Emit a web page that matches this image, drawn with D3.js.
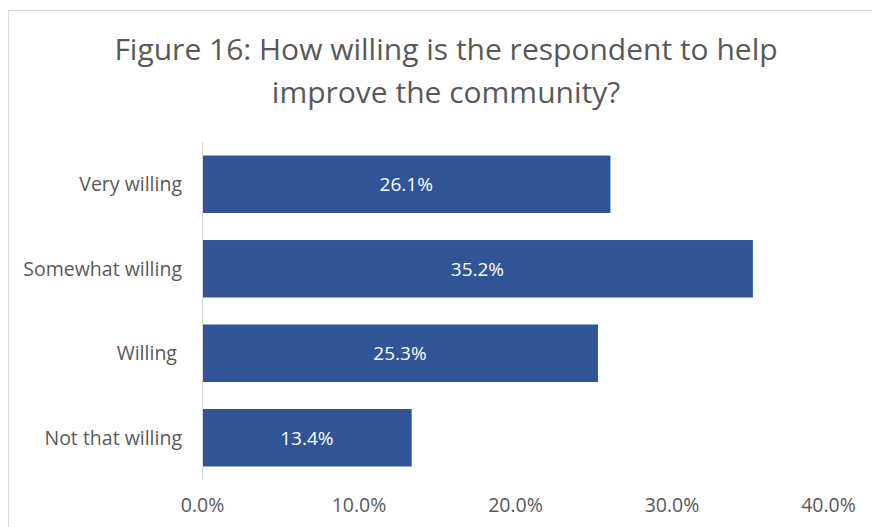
<!DOCTYPE html>
<html>
<head>
<meta charset="utf-8">
<script src="https://cdn.jsdelivr.net/npm/d3@7"></script>
<style>
  html, body { margin: 0; padding: 0; background: #fff; }
  svg { display: block; }
  text { font-family: "Open Sans", "Noto Sans", sans-serif; white-space: pre; }
</style>
</head>
<body>
<svg id="chart" width="872" height="527"></svg>
<script>
// Survey responses: willingness to help improve the community
const categories = ["Very willing", "Somewhat willing", "Willing ", "Not that willing"];
const shares = [26.1, 35.2, 25.3, 13.4];
const xTicks = [0, 10, 20, 30, 40];
const titleLines = ["Figure 16: How willing is the respondent to help", "improve the community?"];

const W = 872, H = 527;
const margin = { top: 142, left: 202, right: 44, bottom: 47 };
const FONT = '"Open Sans", "Noto Sans", sans-serif';
const svg = d3.select("#chart");

// chart area frame (top and left edges fall inside the window)
svg.append("rect")
  .attr("x", 8.5).attr("y", 10.5)
  .attr("width", W + 20).attr("height", H + 20)
  .attr("fill", "#fff")
  .attr("stroke", "#d9d9d9").attr("stroke-width", 1);

const x = d3.scaleLinear().domain([0, 40]).range([margin.left, 828]);
const y = d3.scaleBand().domain(categories)
  .range([margin.top, H - margin.bottom])
  .paddingInner(0.32).paddingOuter(0.16);

// title
svg.append("g").selectAll("text").data(titleLines).join("text")
  .attr("x", 446).attr("y", (d, i) => 60 + i * 43)
  .attr("text-anchor", "middle")
  .attr("fill", "#595959")
  .attr("font-size", 30)
  .text(d => d);

// bars
const data = categories.map((c, i) => ({ c, v: shares[i] }));
svg.append("g").selectAll("rect").data(data).join("rect")
  .attr("x", x(0))
  .attr("y", d => y(d.c))
  .attr("width", d => x(d.v) - x(0))
  .attr("height", y.bandwidth())
  .attr("fill", "#2F5597");

// value labels
svg.append("g").selectAll("text").data(data).join("text")
  .attr("x", d => (x(0) + x(d.v)) / 2)
  .attr("y", d => y(d.c) + y.bandwidth() / 2)
  .attr("dy", "0.36em")
  .attr("text-anchor", "middle")
  .attr("fill", "#fff")
  .attr("font-size", 19)
  .text(d => d.v.toFixed(1) + "%");

// category axis
const yAxis = svg.append("g")
  .attr("transform", `translate(${x(0)},0)`)
  .call(d3.axisLeft(y).tickSize(0).tickPadding(20));
yAxis.select(".domain").attr("stroke", "#d9d9d9").attr("d", `M0.5,${margin.top}V${H - margin.bottom}`);
yAxis.selectAll("text").attr("fill", "#595959").attr("font-size", 19.5)
  .attr("dy", "0.36em")
  .style("font-family", FONT);

// value axis (labels only)
const xAxis = svg.append("g")
  .attr("transform", `translate(0,${H - margin.bottom})`)
  .call(d3.axisBottom(x).tickValues(xTicks).tickSize(0).tickPadding(18)
    .tickFormat(d => d.toFixed(1) + "%"));
xAxis.select(".domain").remove();
xAxis.selectAll("text").attr("fill", "#595959").attr("font-size", 19.5)
  .style("font-family", FONT);
</script>
</body>
</html>
